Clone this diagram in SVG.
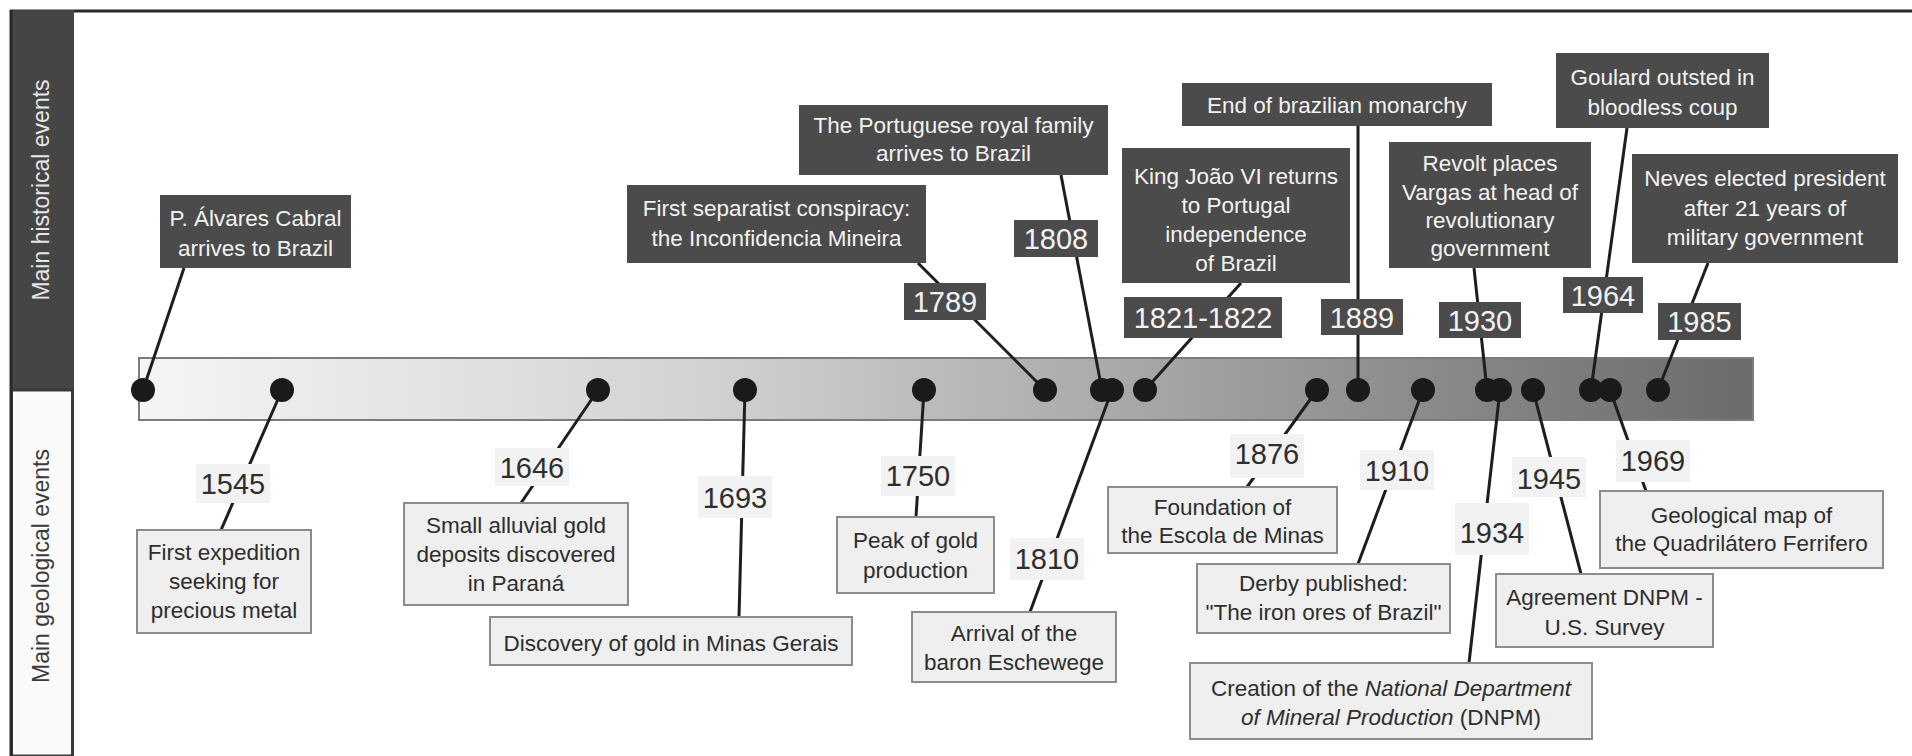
<svg xmlns="http://www.w3.org/2000/svg" width="1912" height="756" viewBox="0 0 1912 756">
<defs>
<linearGradient id="barGrad" x1="0" y1="0" x2="1" y2="0">
<stop offset="0" stop-color="#f5f5f5"/>
<stop offset="0.35" stop-color="#d2d2d2"/>
<stop offset="0.7" stop-color="#9a9a9a"/>
<stop offset="1" stop-color="#6b6b6b"/>
</linearGradient>
<style>
text{font-family:"Liberation Sans",Arial,sans-serif;text-anchor:middle}
.hbox{fill:#4b4b4b}
.htxt{fill:#f2f2f2;font-size:22.5px}
.ytxt{fill:#f2f2f2;font-size:29px}
.gbox{fill:#efefef;stroke:#8c8c8c;stroke-width:2}
.gtxt{fill:#2e2e2e;font-size:22.5px}
.gyear{fill:#2e2e2e;font-size:29px}
.gybg{fill:#f2f2f2}
.con{stroke:#1e1e1e;stroke-width:3;fill:none}
.dot{fill:#1a1a1a}
.side{font-size:23px}
</style>
</defs>
<rect x="0" y="0" width="1912" height="756" fill="#ffffff"/>
<!-- frame and sidebar -->
<g id="frame">
<line x1="10" y1="11" x2="1912" y2="11" stroke="#2a2a2a" stroke-width="3"/>
<rect x="10" y="10" width="64" height="380" fill="#454545"/>
<rect x="11.5" y="390" width="61" height="366" fill="#fafafa" stroke="#3a3a3a" stroke-width="3"/>
<line x1="11" y1="10" x2="11" y2="756" stroke="#2a2a2a" stroke-width="3"/>
<text class="side" transform="translate(49,190) rotate(-90)" fill="#e6e6e6">Main historical events</text>
<text class="side" transform="translate(49,566) rotate(-90)" fill="#3a3a3a">Main geological events</text>
</g>
<!-- timeline bar -->
<g id="timeline">
<rect x="139" y="358" width="1614" height="62" fill="url(#barGrad)" stroke="#7c7c7c" stroke-width="2"/>
</g>
<!-- connectors -->
<g id="connectors">
<line class="con" x1="143" y1="390" x2="184" y2="268"/>
<line class="con" x1="1045" y1="390" x2="918" y2="263"/>
<line class="con" x1="1102" y1="390" x2="1061" y2="175"/>
<line class="con" x1="1145" y1="390" x2="1241" y2="283"/>
<line class="con" x1="1358" y1="390" x2="1358" y2="126"/>
<line class="con" x1="1487" y1="390" x2="1474" y2="268"/>
<line class="con" x1="1591" y1="390" x2="1627" y2="128"/>
<line class="con" x1="1658" y1="390" x2="1708" y2="263"/>
<line class="con" x1="282" y1="390" x2="221" y2="530"/>
<line class="con" x1="598" y1="390" x2="521" y2="503"/>
<line class="con" x1="745" y1="390" x2="739" y2="617"/>
<line class="con" x1="924" y1="390" x2="916" y2="517"/>
<line class="con" x1="1112" y1="390" x2="1030" y2="612"/>
<line class="con" x1="1317" y1="390" x2="1247" y2="487"/>
<line class="con" x1="1423" y1="390" x2="1358" y2="564"/>
<line class="con" x1="1500" y1="390" x2="1469" y2="663"/>
<line class="con" x1="1533" y1="390" x2="1581" y2="574"/>
<line class="con" x1="1610" y1="390" x2="1646" y2="491"/>
</g>
<!-- dots -->
<g id="dots">
<circle class="dot" cx="143" cy="390" r="12"/>
<circle class="dot" cx="282" cy="390" r="12"/>
<circle class="dot" cx="598" cy="390" r="12"/>
<circle class="dot" cx="745" cy="390" r="12"/>
<circle class="dot" cx="924" cy="390" r="12"/>
<circle class="dot" cx="1045" cy="390" r="12"/>
<circle class="dot" cx="1102" cy="390" r="12"/>
<circle class="dot" cx="1112" cy="390" r="12"/>
<circle class="dot" cx="1145" cy="390" r="12"/>
<circle class="dot" cx="1317" cy="390" r="12"/>
<circle class="dot" cx="1358" cy="390" r="12"/>
<circle class="dot" cx="1423" cy="390" r="12"/>
<circle class="dot" cx="1487" cy="390" r="12"/>
<circle class="dot" cx="1500" cy="390" r="12"/>
<circle class="dot" cx="1533" cy="390" r="12"/>
<circle class="dot" cx="1591" cy="390" r="12"/>
<circle class="dot" cx="1610" cy="390" r="12"/>
<circle class="dot" cx="1658" cy="390" r="12"/>
</g>
<!-- historical events -->
<g id="h1500">
<rect class="hbox" x="160" y="195" width="191" height="73"/>
<text class="htxt" x="255.5" y="226">P. Álvares Cabral</text>
<text class="htxt" x="255.5" y="256">arrives to Brazil</text>
</g>
<g id="h1789">
<rect class="hbox" x="627" y="185" width="299" height="78"/>
<text class="htxt" x="776.5" y="216">First separatist conspiracy:</text>
<text class="htxt" x="776.5" y="246">the Inconfidencia Mineira</text>
<rect class="hbox" x="904" y="283" width="82" height="37"/>
<text class="ytxt" x="945" y="312">1789</text>
</g>
<g id="h1808">
<rect class="hbox" x="799" y="105" width="309" height="70"/>
<text class="htxt" x="953.5" y="133">The Portuguese royal family</text>
<text class="htxt" x="953.5" y="161">arrives to Brazil</text>
<rect class="hbox" x="1014" y="220" width="84" height="37"/>
<text class="ytxt" x="1056" y="249">1808</text>
</g>
<g id="h1821">
<rect class="hbox" x="1122" y="148" width="228" height="135"/>
<text class="htxt" x="1236" y="184">King João VI returns</text>
<text class="htxt" x="1236" y="213">to Portugal</text>
<text class="htxt" x="1236" y="242">independence</text>
<text class="htxt" x="1236" y="271">of Brazil</text>
<rect class="hbox" x="1124" y="297" width="158" height="41"/>
<text class="ytxt" x="1203" y="328">1821-1822</text>
</g>
<g id="h1889">
<rect class="hbox" x="1182" y="83" width="310" height="43"/>
<text class="htxt" x="1337" y="113">End of brazilian monarchy</text>
<rect class="hbox" x="1321" y="299" width="82" height="36"/>
<text class="ytxt" x="1362" y="327.5">1889</text>
</g>
<g id="h1930">
<rect class="hbox" x="1389" y="142" width="202" height="126"/>
<text class="htxt" x="1490" y="171">Revolt places</text>
<text class="htxt" x="1490" y="200">Vargas at head of</text>
<text class="htxt" x="1490" y="228">revolutionary</text>
<text class="htxt" x="1490" y="256">government</text>
<rect class="hbox" x="1439" y="302" width="82" height="36"/>
<text class="ytxt" x="1480" y="330.5">1930</text>
</g>
<g id="h1964">
<rect class="hbox" x="1556" y="53" width="213" height="75"/>
<text class="htxt" x="1662.5" y="85">Goulard outsted in</text>
<text class="htxt" x="1662.5" y="115">bloodless coup</text>
<rect class="hbox" x="1563" y="277" width="80" height="36"/>
<text class="ytxt" x="1603" y="305.5">1964</text>
</g>
<g id="h1985">
<rect class="hbox" x="1632" y="154" width="266" height="109"/>
<text class="htxt" x="1765" y="186">Neves elected president</text>
<text class="htxt" x="1765" y="216">after 21 years of</text>
<text class="htxt" x="1765" y="245">military government</text>
<rect class="hbox" x="1658" y="303" width="83" height="37"/>
<text class="ytxt" x="1699.5" y="332">1985</text>
</g>
<!-- geological events -->
<g id="g1545">
<rect class="gybg" x="196" y="464" width="74" height="39"/>
<text class="gyear" x="233" y="493.5">1545</text>
<rect class="gbox" x="137" y="530" width="174" height="103"/>
<text class="gtxt" x="224" y="560">First expedition</text>
<text class="gtxt" x="224" y="589">seeking for</text>
<text class="gtxt" x="224" y="618">precious metal</text>
</g>
<g id="g1646">
<rect class="gybg" x="495" y="448" width="74" height="38"/>
<text class="gyear" x="532" y="477.5">1646</text>
<rect class="gbox" x="404" y="503" width="224" height="102"/>
<text class="gtxt" x="516" y="533">Small alluvial gold</text>
<text class="gtxt" x="516" y="562">deposits discovered</text>
<text class="gtxt" x="516" y="591">in Paraná</text>
</g>
<g id="g1693">
<rect class="gybg" x="698" y="476" width="74" height="42"/>
<text class="gyear" x="735" y="507.5">1693</text>
<rect class="gbox" x="490" y="617" width="362" height="48"/>
<text class="gtxt" x="671" y="651">Discovery of gold in Minas Gerais</text>
</g>
<g id="g1750">
<rect class="gybg" x="881" y="456" width="74" height="40"/>
<text class="gyear" x="918" y="485.5">1750</text>
<rect class="gbox" x="837" y="517" width="157" height="76"/>
<text class="gtxt" x="915.5" y="548">Peak of gold</text>
<text class="gtxt" x="915.5" y="578">production</text>
</g>
<g id="g1810">
<rect class="gybg" x="1010" y="538" width="74" height="42"/>
<text class="gyear" x="1047" y="568.5">1810</text>
<rect class="gbox" x="912" y="612" width="204" height="70"/>
<text class="gtxt" x="1014" y="641">Arrival of the</text>
<text class="gtxt" x="1014" y="670">baron Eschewege</text>
</g>
<g id="g1876">
<rect class="gybg" x="1230" y="434" width="74" height="44"/>
<text class="gyear" x="1267" y="463.5">1876</text>
<rect class="gbox" x="1108" y="487" width="229" height="66"/>
<text class="gtxt" x="1222.5" y="515">Foundation of</text>
<text class="gtxt" x="1222.5" y="543">the Escola de Minas</text>
</g>
<g id="g1910">
<rect class="gybg" x="1360" y="450" width="74" height="40"/>
<text class="gyear" x="1397" y="480.5">1910</text>
<rect class="gbox" x="1197" y="564" width="253" height="69"/>
<text class="gtxt" x="1323.5" y="591">Derby published:</text>
<text class="gtxt" x="1323.5" y="620">"The iron ores of Brazil"</text>
</g>
<g id="g1934">
<rect class="gybg" x="1455" y="503" width="74" height="52"/>
<text class="gyear" x="1492" y="542.5">1934</text>
<rect class="gbox" x="1190" y="663" width="402" height="76"/>
<text class="gtxt" x="1391" y="696">Creation of the <tspan font-style="italic">National Department</tspan></text>
<text class="gtxt" x="1391" y="725"><tspan font-style="italic">of Mineral Production</tspan> (DNPM)</text>
</g>
<g id="g1945">
<rect class="gybg" x="1512" y="457" width="74" height="40"/>
<text class="gyear" x="1549" y="488.5">1945</text>
<rect class="gbox" x="1496" y="574" width="217" height="73"/>
<text class="gtxt" x="1604.5" y="605">Agreement DNPM -</text>
<text class="gtxt" x="1604.5" y="635">U.S. Survey</text>
</g>
<g id="g1969">
<rect class="gybg" x="1616" y="440" width="74" height="42"/>
<text class="gyear" x="1653" y="470.5">1969</text>
<rect class="gbox" x="1600" y="491" width="283" height="77"/>
<text class="gtxt" x="1741.5" y="523">Geological map of</text>
<text class="gtxt" x="1741.5" y="551">the Quadrilátero Ferrifero</text>
</g>
</svg>
